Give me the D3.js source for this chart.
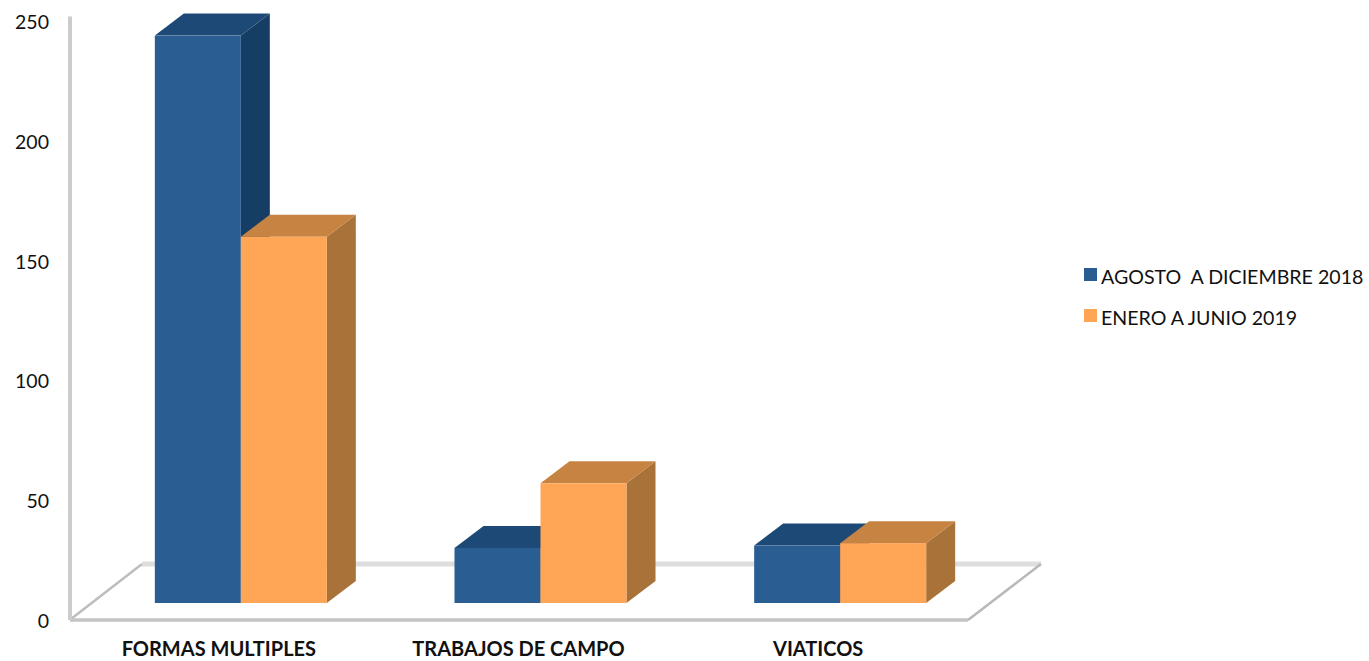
<!DOCTYPE html>
<html>
<head>
<meta charset="utf-8">
<script src="https://cdn.jsdelivr.net/npm/d3@7"></script>
<style>
  html, body { margin: 0; padding: 0; background: #fff; }
  svg { display: block; }
  text { font-family: Lato, "Open Sans", sans-serif; fill: #111; }
</style>
</head>
<body>
<div id="chart"></div>
<script>
// datos
const categories = ["FORMAS MULTIPLES", "TRABAJOS DE CAMPO", "VIATICOS"];
const seriesNames = ["AGOSTO  A DICIEMBRE 2018", "ENERO A JUNIO 2019"];
const agosto = [237, 23, 24];
const enero = [153, 50, 25];
const yTicks = [0, 50, 100, 150, 200, 250];

const width = 1369;
const height = 661;

const faceColors = ["#295d92", "#ffa556"];
const topColors = ["#1e4a74", "#c78343"];
const sideColors = ["#193e64", "#a87238"];

// profundidad del suelo y de las barras
const floorDx = 73, floorDy = -56;
const barDx = 29, barDy = -22;
const offsetX = 22, offsetY = -17;

const svg = d3.select("#chart")
    .append("svg")
    .attr("width", width)
    .attr("height", height);

const defs = svg.append("defs");
defs.append("filter").attr("id", "soft")
    .append("feGaussianBlur").attr("stdDeviation", 0.6);

const x = d3.scaleBand()
    .domain(categories)
    .range([69, 968]);

const groupWidth = 172;
const xSeries = d3.scaleBand()
    .domain(seriesNames)
    .range([0, groupWidth]);

const y = d3.scaleLinear()
    .domain([0, 250])
    .range([620, 21.5]);

// pared y suelo
const base = y(0);
const wallTop = y(250) - 5;
const grid = svg.append("g").attr("filter", "url(#soft)");

grid.append("path")
    .attr("fill", "none")
    .attr("stroke", "#dedede")
    .attr("stroke-width", 5)
    .attr("d", d3.line()([
        [x.range()[0] + floorDx, base + floorDy],
        [x.range()[1] + floorDx, base + floorDy]
    ]));

grid.append("path")
    .attr("fill", "none")
    .attr("stroke", "#bdbdbd")
    .attr("stroke-width", 2.5)
    .attr("d", d3.line()([
        [x.range()[0] + 2, base - 1],
        [x.range()[0] + floorDx, base + floorDy]
    ]));

grid.append("path")
    .attr("fill", "none")
    .attr("stroke", "#b8b8b8")
    .attr("stroke-width", 2.5)
    .attr("d", d3.line()([
        [x.range()[1], base],
        [x.range()[1] + floorDx, base + floorDy]
    ]));

grid.append("line")
    .attr("x1", x.range()[0] + 1).attr("x2", x.range()[1])
    .attr("y1", base).attr("y2", base)
    .attr("stroke", "#c4c4c4")
    .attr("stroke-width", 3.5);

grid.append("line")
    .attr("x1", x.range()[0] + 1).attr("x2", x.range()[0] + 1)
    .attr("y1", wallTop).attr("y2", base)
    .attr("stroke", "#cccccc")
    .attr("stroke-width", 4);

// barras
const rows = categories.map((c, i) => ({ category: c, values: [agosto[i], enero[i]] }));

const groups = svg.append("g")
    .attr("filter", "url(#soft)")
    .selectAll("g")
    .data(rows)
    .join("g")
    .attr("transform", d => `translate(${x(d.category) + (x.bandwidth() - groupWidth) / 2 + offsetX},${offsetY})`);

const bars = groups.selectAll("g")
    .data(d => d.values.map((v, i) => ({ value: v, index: i, name: seriesNames[i] })))
    .join("g");

const line = d3.line();

// lado
bars.append("path")
    .attr("fill", d => sideColors[d.index])
    .attr("d", d => {
        const x1 = xSeries(d.name) + xSeries.bandwidth();
        const yTop = y(d.value);
        return line([[x1, yTop], [x1 + barDx, yTop + barDy], [x1 + barDx, base + barDy], [x1, base]]) + "Z";
    });

// tapa
bars.append("path")
    .attr("fill", d => topColors[d.index])
    .attr("d", d => {
        const x0 = xSeries(d.name);
        const x1 = x0 + xSeries.bandwidth();
        const yTop = y(d.value);
        return line([[x0, yTop], [x0 + barDx, yTop + barDy], [x1 + barDx, yTop + barDy], [x1, yTop]]) + "Z";
    });

// frente
bars.append("rect")
    .attr("x", d => xSeries(d.name))
    .attr("y", d => y(d.value))
    .attr("width", xSeries.bandwidth())
    .attr("height", d => base - y(d.value))
    .attr("fill", d => faceColors[d.index]);

// ejes
const yAxis = svg.append("g")
    .attr("transform", "translate(49,1)")
    .call(d3.axisLeft(y).tickValues(yTicks).tickSize(0).tickPadding(0))
    .call(g => g.select(".domain").remove());
yAxis.selectAll("text")
    .attr("font-size", 19.5)
    .style("font-family", "Lato, sans-serif");

const xAxis = svg.append("g")
    .attr("transform", `translate(0,${base})`)
    .call(d3.axisBottom(x).tickSize(0).tickPadding(22))
    .call(g => g.select(".domain").remove());
xAxis.selectAll("text")
    .attr("font-size", 20)
    .attr("font-weight", "bold")
    .style("font-family", "Lato, sans-serif");

// leyenda
const legend = svg.append("g")
    .selectAll("g")
    .data(seriesNames)
    .join("g")
    .attr("transform", (d, i) => `translate(1084,${268 + i * 41})`);

legend.append("rect")
    .attr("width", 13)
    .attr("height", 13)
    .attr("fill", (d, i) => faceColors[i]);

legend.append("text")
    .attr("x", 17)
    .attr("y", 9)
    .attr("dy", "0.35em")
    .attr("font-size", 19.6)
    .style("white-space", "pre")
    .text(d => d);
</script>
</body>
</html>
